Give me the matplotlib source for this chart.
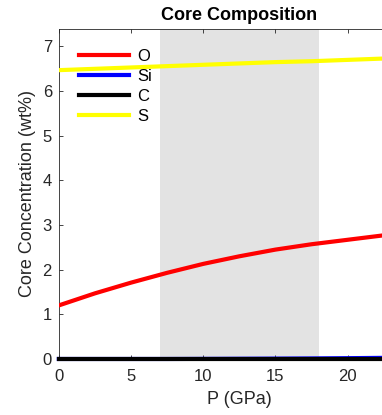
import numpy as np
import matplotlib
matplotlib.use("Agg")
import matplotlib.pyplot as plt

plt.rcParams['font.family'] = ['Liberation Sans', 'DejaVu Sans']

# pressure grid and core concentrations (wt%)
P = [0, 2.5, 5, 7.5, 10, 12.5, 15, 17.5, 20, 22.5]
O = [1.20, 1.47, 1.71, 1.93, 2.13, 2.30, 2.45, 2.57, 2.67, 2.77]
Si = [0.0, 0.0, 0.0, 0.0, 0.002, 0.005, 0.008, 0.012, 0.018, 0.025]
C = [0, 0, 0, 0, 0, 0, 0, 0, 0, 0]
S = [6.47, 6.50, 6.53, 6.56, 6.59, 6.62, 6.65, 6.67, 6.70, 6.73]
shade = (7, 18)

fig = plt.figure(figsize=(3.82, 4.15), dpi=100)
ax = fig.add_axes([0.154, 0.135, 0.945, 0.796])

ax.axvspan(shade[0], shade[1], color='#e3e3e3', lw=0, zorder=0)
ax.plot(P, O, color='#ff0000', lw=3, label='O', zorder=3)
ax.plot(P, Si, color='#0000ff', lw=3, label='Si', clip_on=False, zorder=3)
ax.plot(P, C, color='black', lw=3, label='C', clip_on=False, zorder=4)
ax.plot(P, S, color='#ffff00', lw=3, label='S', zorder=3)

ax.set_xlim(0, 25)
ax.set_ylim(0, 7.4)
ax.set_xticks([0, 5, 10, 15, 20])
ax.set_yticks(range(8))
for sp in ax.spines.values():
    sp.set_color('#262626')
    sp.set_linewidth(0.6)
ax.tick_params(direction='in', length=3, width=0.6, top=True, right=False,
               labelsize=12, colors='#262626')
ax.tick_params(axis='x', pad=7)
ax.tick_params(axis='y', pad=5)

ax.set_xlabel('P (GPa)', fontsize=13, color='#262626', labelpad=5)
ax.set_ylabel('Core Concentration (wt%)', fontsize=13, color='#262626', labelpad=5)
ax.set_title('Core Composition', fontsize=13, fontweight='bold', pad=6)

leg = ax.legend(loc='upper left', frameon=False, fontsize=12, handlelength=3.0,
                handletextpad=0.5, labelspacing=0.3, borderaxespad=0.4,
                bbox_to_anchor=(0.019, 0.979))

fig.savefig('out.png', dpi=100)
